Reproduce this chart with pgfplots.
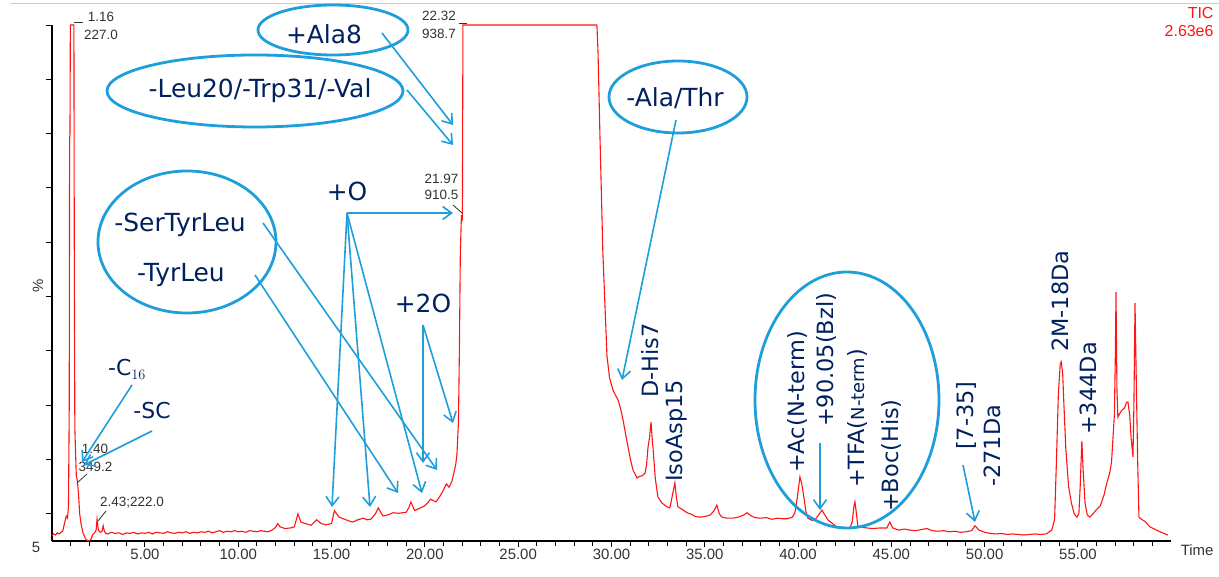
\documentclass[border=0pt]{standalone}
\usepackage{fontspec}
\setmainfont{Liberation Sans}
\newfontfamily\annot{DejaVu Sans}
\usepackage{pgfplots}
\pgfplotsset{compat=1.18}
\usetikzlibrary{arrows.meta}
\definecolor{navy}{RGB}{0,32,96}
\definecolor{ann}{RGB}{30,158,218}
\definecolor{trace}{RGB}{255,20,20}
\definecolor{lab}{RGB}{50,50,50}
\newcommand\bigf{\annot\fontsize{25}{30}\selectfont\color{navy}}
\newcommand\rotf{\annot\fontsize{22.5}{26}\selectfont\color{navy}}
\newcommand\pkf{\fontsize{13.5}{15}\selectfont\color{lab}}
\begin{document}
\begin{tikzpicture}
\useasboundingbox (-51.7bp,-36bp) rectangle (1167.3bp,541bp);
\begin{axis}[
 scale only axis, width=1119.6bp, height=516bp,
 xmin=0,xmax=60,ymin=5,ymax=100,
 axis x line*=bottom, axis y line*=left,
 axis line style={line width=1.8bp, black},
 clip=false,
 xtick={5,10,...,55}, minor xtick={1,2,...,59},
 ytick={10,20,...,100}, yticklabels={},
 tick align=outside,
 major tick length=6bp, minor tick length=5bp,
 every tick/.style={black, line width=1bp},
 xticklabel={\pgfmathprintnumber[fixed,fixed zerofill,precision=2,assume math mode=true]{\tick}},
 xticklabel style={font=\fontsize{15}{17}\selectfont, text=lab, yshift=1bp},
]
\addplot[trace, line width=1.1bp] coordinates {
(0.00,6.0) (0.10,6.3) (0.20,6.1) (0.30,6.5) (0.40,6.3) (0.50,6.6) (0.60,6.9) (0.70,8.5) (0.78,9.6) (0.85,9.2)
(0.90,11.5) (0.94,30.0) (0.96,79.0) (0.98,80.0) (1.00,100) (1.19,100) (1.21,60) (1.24,26.0) (1.28,21.0) (1.32,17.0)
(1.38,16.0) (1.44,13.5) (1.50,10.0) (1.58,8.0) (1.68,6.5) (1.80,5.5) (1.90,5.1) (2.00,5.0) (2.10,5.3) (2.20,6.2)
(2.30,6.5) (2.38,7.0) (2.43,9.0) (2.50,7.0) (2.60,6.6) (2.70,6.8) (2.76,7.8) (2.82,6.8) (2.90,6.4) (3.00,6.3)
(3.2,6.6) (3.4,6.4) (3.6,6.5) (3.8,6.2) (4.0,6.5) (4.2,6.4) (4.4,6.6) (4.6,6.3) (4.8,6.5) (5.0,6.4)
(5.2,6.6) (5.4,6.3) (5.6,6.6) (5.8,6.5) (6.0,6.4) (6.2,6.7) (6.4,6.5) (6.6,6.4) (6.8,6.6) (7.0,6.5)
(7.2,6.7) (7.4,6.4) (7.6,6.6) (7.8,6.5) (8.0,6.7) (8.2,6.6) (8.4,6.8) (8.6,6.5) (8.8,6.7) (9.0,6.9)
(9.2,6.6) (9.4,6.8) (9.6,6.7) (9.8,6.9) (10.0,6.7) (10.2,6.8) (10.4,6.6) (10.6,6.9) (10.8,6.8) (11.0,6.7)
(11.2,6.9) (11.4,6.8) (11.6,6.7) (11.8,7.0) (12.0,7.5) (12.1,8.2) (12.25,7.6) (12.5,7.3) (12.8,7.4) (13.0,7.6)
(13.2,10.0) (13.35,8.5) (13.6,8.2) (13.9,7.9) (14.2,8.9) (14.45,8.2) (14.7,8.0) (15.0,8.2) (15.15,10.6) (15.4,9.4)
(15.7,9.0) (16.0,8.6) (16.15,8.5) (16.4,8.9) (16.7,9.2) (16.9,8.9) (17.1,9.0) (17.35,10.0) (17.5,11.1) (17.75,9.6)
(18.0,9.8) (18.3,10.2) (18.6,10.1) (19.0,10.3) (19.15,11.2) (19.25,12.2) (19.45,10.6) (19.7,11.0) (19.95,11.4) (20.15,12.0)
(20.3,12.7) (20.6,12.2) (20.8,13.2) (20.95,14.1) (21.05,14.8) (21.15,15.5) (21.3,14.9) (21.45,16.0) (21.55,17.5) (21.65,19.0)
(21.72,21.0) (21.80,27.0) (21.85,40.0) (21.90,58.0) (21.96,65.0) (22.01,64.0) (22.04,100)
(29.22,100) (29.28,95) (29.38,80) (29.54,58) (29.76,39) (29.9,35) (30.08,32.8) (30.22,31.8) (30.35,31.0) (30.48,29.5)
(30.62,27.3) (30.75,24.8) (30.89,22.3) (31.02,20.0) (31.15,18.1) (31.37,16.6) (31.50,16.9) (31.64,17.0) (31.80,17.5) (31.88,19.0)
(31.96,22.3) (32.04,24.0) (32.12,26.9) (32.18,24.0) (32.23,22.0) (32.35,16.5) (32.49,13.1) (32.7,12.0) (32.97,11.3) (33.13,11.1)
(33.27,13.5) (33.40,15.7) (33.48,13.0) (33.56,11.3) (33.8,10.8) (34.05,10.2) (34.3,9.9) (34.5,9.5) (34.74,9.4) (35.0,9.5)
(35.3,9.8) (35.5,10.6) (35.65,11.6) (35.78,10.0) (35.92,9.4) (36.2,9.2) (36.51,9.2) (36.8,9.4) (37.1,9.8) (37.26,10.2)
(37.5,9.6) (37.7,9.3) (37.96,9.2) (38.3,9.3) (38.6,9.0) (38.9,9.2) (39.2,9.1) (39.41,9.1) (39.7,9.4) (39.83,10.2)
(39.96,13.0) (40.10,16.8) (40.2,15.5) (40.31,13.1) (40.42,10.5) (40.53,9.2) (40.75,8.8) (40.90,8.9) (41.1,9.8) (41.28,10.7)
(41.43,9.8) (41.60,8.9) (41.85,8.2) (42.08,7.6) (42.4,7.5) (42.78,7.4) (42.9,8.5) (43.0,11.5) (43.05,12.2) (43.13,10.0)
(43.21,7.6) (43.45,7.5) (43.69,7.4) (44.0,7.3) (44.4,7.4) (44.76,7.4) (44.92,8.5) (45.08,7.4) (45.4,7.0) (45.7,7.2)
(46.0,7.0) (46.3,6.9) (46.6,7.1) (46.9,7.3) (47.2,6.9) (47.5,6.8) (47.8,6.9) (48.1,6.7) (48.4,6.8) (48.7,6.6)
(49.0,6.7) (49.3,6.9) (49.48,7.8) (49.7,7.0) (50.0,6.6) (50.3,6.4) (50.6,6.3) (50.9,6.4) (51.2,6.2) (51.5,6.3)
(51.8,6.2) (52.1,6.1) (52.4,6.2) (52.7,6.3) (53.0,6.2) (53.3,6.3) (53.6,7.0) (53.75,9.0) (53.85,20.0) (53.95,32.0)
(54.05,37.5) (54.10,38.0) (54.18,36.0) (54.25,30.0) (54.35,22.0) (54.5,15.0) (54.65,12.0) (54.8,10.0) (54.94,9.4) (55.05,10.0)
(55.12,15.0) (55.21,23.4) (55.28,18.0) (55.38,12.0) (55.5,9.8) (55.64,9.4) (55.8,10.0) (56.0,10.8) (56.2,11.5) (56.4,13.5)
(56.55,15.7) (56.7,17.5) (56.8,19.5) (56.88,24.1) (56.95,28.0) (57.00,38.0) (57.04,50.8) (57.09,33.0) (57.14,27.8) (57.25,28.5)
(57.36,29.1) (57.5,29.5) (57.6,30.5) (57.68,30.6) (57.78,28.0) (57.85,24.0) (57.95,20.5) (58.00,30.0) (58.06,48.8) (58.12,36.0)
(58.2,20.0) (58.27,9.4) (58.4,9.0) (58.6,8.6) (58.86,7.6) (59.1,7.2) (59.4,6.7) (59.6,6.4) (59.82,6.1)
};
\end{axis}
\begin{scope}[shift={(-51.7bp,541bp)},x=1bp,y=-1bp]
% frame line
\draw[black!20, line width=1bp] (10,4) -- (1219,4);
% axis texts
\node[font=\fontsize{15}{17}\selectfont, text=lab] at (36,547) {5};
\node[font=\fontsize{15}{17}\selectfont, text=lab, rotate=90] at (38,286) {\%};
\node[font=\fontsize{15}{17}\selectfont, text=lab, anchor=east] at (1217,550) {Time};
\node[font=\fontsize{16}{18}\selectfont, text=trace, anchor=east] at (1217,13.5) {TIC};
\node[font=\fontsize{16}{18}\selectfont, text=trace, anchor=east] at (1217,31.5) {2.63e6};
% peak labels
\node at (101,17) {\pkf 1.16};
\node at (101,34.5) {\pkf 227.0};
\draw[lab, line width=0.8bp] (74,22.5) -- (83,22.5);
\node at (439,16) {\pkf 22.32};
\node at (439,33.5) {\pkf 938.7};
\draw[lab, line width=0.8bp] (459,23) -- (467,23);
\node at (441.5,178.5) {\pkf 21.97};
\node at (441.5,195) {\pkf 910.5};
\draw[lab, line width=0.8bp] (453,205) -- (462,213);
\node at (95,448.5) {\pkf 1.40};
\node at (95.5,466.5) {\pkf 349.2};
\draw[lab, line width=0.8bp] (87,474) -- (77,483);
\node at (132,502.5) {\pkf 2.43;222.0};
\draw[lab, line width=0.8bp] (106,511) -- (98,521);
% ellipses
\begin{scope}[ann, line width=2.8bp]
\draw (333,30) ellipse [x radius=75, y radius=25];
\draw (255,91) ellipse [x radius=148, y radius=36];
\draw (678,97) ellipse [x radius=69, y radius=36];
\draw (187,242) ellipse [x radius=89, y radius=71];
\draw (847,400) ellipse [x radius=92, y radius=128];
\end{scope}
% arrows
\begin{scope}[ann, line width=1.6bp, -{Straight Barb[length=9bp,width=13bp,line width=1.6bp]}]
\draw (382,33) -- (453,125);
\draw (407,90) -- (453,145);
\draw (347,213) -- (453,213);
\draw (347,213) -- (332,507);
\draw (347,213) -- (370,507);
\draw (347,213) -- (422,493);
\draw (423,325) -- (423,463);
\draw (423,325) -- (453,423);
\draw (263,223) -- (437,470);
\draw (255,275) -- (398,493);
\draw (676,120) -- (622,380);
\draw (132,385) -- (82,462);
\draw (152,431) -- (84,465);
\draw (820,443) -- (820,510);
\draw (963,465) -- (975,522);
\end{scope}
% big annotations
\node at (324,34) {\bigf +Ala8};
\node at (260,91) {\bigf -Leu20/-Trp31/-Val};
\node at (675,98) {\bigf -Ala/Thr};
\node at (180,225) {\bigf -SerTyrLeu};
\node at (181,275) {\bigf -TyrLeu};
\node at (347,191) {\bigf +O};
\node at (423,303) {\bigf +2O};
\node[anchor=base west, inner sep=0pt] at (108,376) {\annot\fontsize{22}{26}\selectfont\color{navy}-C$_{16}$};
\node at (152,411) {\annot\fontsize{22}{26}\selectfont\color{navy}-SC};
% rotated labels
\node[rotate=90, anchor=west, inner sep=0pt] at (650,398) {\rotf D-His7};
\node[rotate=90, anchor=west, inner sep=0pt] at (677,482) {\rotf IsoAsp15};
\node[rotate=90, anchor=west, inner sep=0pt] at (797,473) {\rotf +Ac(N-term)};
\node[rotate=90, anchor=west, inner sep=0pt] at (826,427) {\rotf +90.05(Bzl)};
\node[rotate=90, anchor=west, inner sep=0pt] at (857,488) {\rotf +TFA({\fontsize{18}{20}\selectfont N-term})};
\node[rotate=90, anchor=west, inner sep=0pt] at (891,512) {\rotf +Boc(His)};
\node[rotate=90, anchor=west, inner sep=0pt] at (966,450) {\rotf [7-35]};
\node[rotate=90, anchor=west, inner sep=0pt] at (992,487) {\rotf -271Da};
\node[rotate=90, anchor=west, inner sep=0pt] at (1060,352) {\rotf 2M-18Da};
\node[rotate=90, anchor=west, inner sep=0pt] at (1088,435) {\rotf +344Da};
\end{scope}
\end{tikzpicture}
\end{document}
